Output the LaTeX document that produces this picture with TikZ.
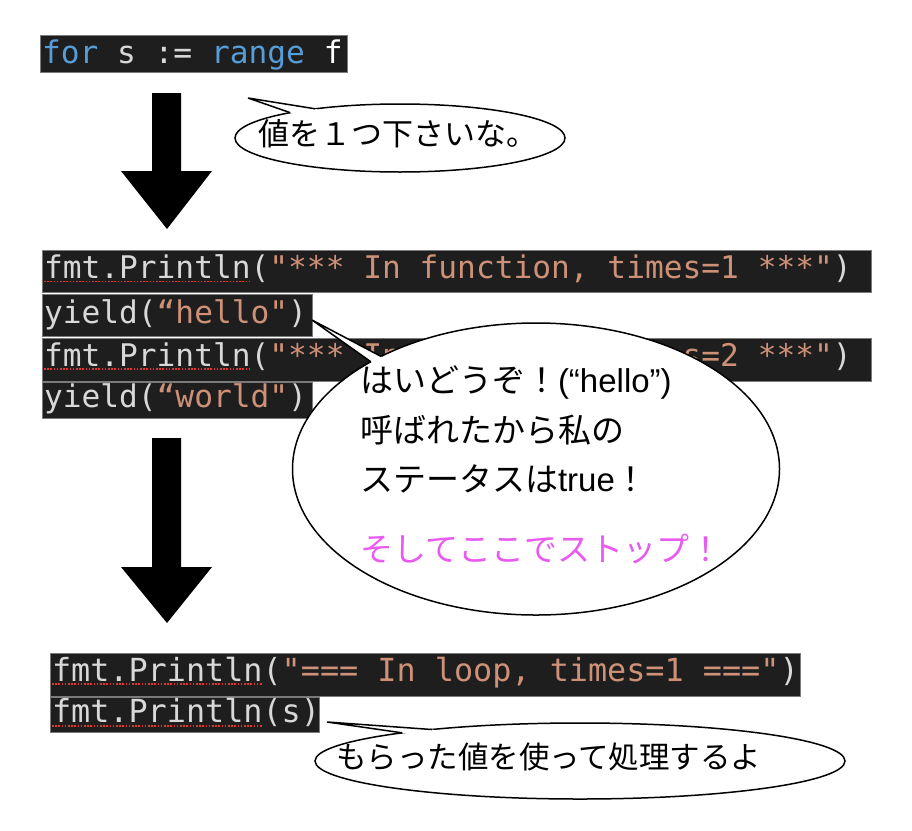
\documentclass[tikz,border=0pt]{standalone}
\usepackage{fontspec}
\setmainfont{Liberation Sans}
\newfontfamily\cjk{Noto Sans CJK JP}
\newfontfamily\codefont{DejaVu Sans Mono}
\usetikzlibrary{shapes.geometric}
\definecolor{codebg}{HTML}{1E1E1E}
\definecolor{codefg}{HTML}{D8D8D8}
\definecolor{codestr}{HTML}{CE9178}
\definecolor{codekw}{HTML}{569CD6}
\definecolor{codeedge}{HTML}{7A7A7A}
\definecolor{squig}{HTML}{E8342C}
\definecolor{stoppink}{HTML}{E95AF0}
\begin{document}
\begin{tikzpicture}[x=1pt,y=-1pt,
  codebox/.style={anchor=north west, fill=codebg, draw=codeedge, line width=0.8pt, inner sep=0pt, outer sep=0pt},
  codetext/.style={anchor=base west, inner sep=0pt, outer sep=0pt, text=codefg, font=\codefont\fontsize{31.2}{36}\selectfont},
  codetextb/.style={codetext, font=\codefont\fontsize{31.8}{36}\selectfont},
  squiggle/.style={draw=squig, line width=1.6pt, dash pattern=on 1.6pt off 1.6pt},
  bubble/.style={ellipse, draw=black, fill=white, line width=1.5pt, inner sep=0pt, outer sep=0pt},
  tail/.style={draw=black, line width=1.5pt, line join=miter},
  talk/.style={anchor=base west, inner sep=0pt, outer sep=0pt, text=black},
  bigarrow/.style={fill=black}]
\fill[white] (0,0) rectangle (912,830);
\useasboundingbox (0,0) rectangle (912,830);

% ---- block 1
\node[codebox, minimum width=307, minimum height=37] (c0box) at (40,35) {};
\node[codetext] (c0) at (42,63) {\textcolor{codekw}{for} s := \textcolor{codekw}{range} \textcolor{white}{f}};

% ---- arrow 1
\fill[bigarrow] (152,93) -- (181,93) -- (181,171) -- (212,171) -- (167,229) -- (121,171) -- (152,171) -- cycle;

% ---- bubble 1
\node[bubble, minimum width=330, minimum height=68] (s1) at (400,138) {};
\coordinate (s1tip) at (248,98);
\fill[white] (s1tip) -- (s1.167.9) -- (s1.center) -- (s1.161.4) -- cycle;
\draw[tail] (s1.167.9) -- (s1tip) -- (s1.161.4);
\node[talk, font=\cjk\fontsize{31}{36}\selectfont] (s1t) at (258,145) {値を１つ下さいな。};

% ---- block 2
\node[codebox, minimum width=829, minimum height=42] (l1box) at (42,250) {};
\node[codebox, minimum width=270, minimum height=42] (l2box) at (42,294) {};
\node[codebox, minimum width=829, minimum height=43] (l3box) at (42,338) {};
\node[codebox, minimum width=270, minimum height=36] (l4box) at (42,382) {};
\node[codetext] (l1) at (44,278) {fmt.Println(\textcolor{codestr}{"*** In function, times=1 ***"})};
\node[codetext] (l2) at (44,323) {yield(\textcolor{codestr}{“hello"})};
\node[codetext] (l3) at (44,366) {fmt.Println(\textcolor{codestr}{"*** In function, times=2 ***"})};
\node[codetext] (l4) at (44,407) {yield(\textcolor{codestr}{“world"})};
\draw[squiggle] (44,281.5) -- (251,281.5);
\draw[squiggle] (44,369) -- (251,369);

% ---- arrow 2
\fill[bigarrow] (152,438) -- (181,438) -- (181,567) -- (212,567) -- (167,623) -- (121,567) -- (152,567) -- cycle;

% ---- bubble 2
\node[bubble, minimum width=487, minimum height=292] (s2) at (536,469) {};
\coordinate (s2tip) at (312,320);
\fill[white] (s2tip) -- (s2.147.9) -- (s2.center) -- (s2.144.6) -- cycle;
\draw[tail] (s2.147.9) -- (s2tip) -- (s2.144.6);
\node[talk, font=\fontsize{33}{38}\selectfont] (s2a) at (360,392) {{\cjk はいどうぞ！}(“hello”)};
\node[talk, font=\cjk\fontsize{33}{38}\selectfont] (s2b) at (360,442) {呼ばれたから私の};
\node[talk, font=\fontsize{33}{38}\selectfont] (s2c) at (360,491) {{\cjk ステータスは}true{\cjk ！}};
\node[talk, text=stoppink, font=\cjk\fontsize{33}{38}\selectfont] (s2d) at (360,561) {そしてここでストップ！};

% ---- block 3
\node[codebox, minimum width=750, minimum height=43] (b1box) at (50,653) {};
\node[codebox, minimum width=269, minimum height=35] (b2box) at (50,697) {};
\node[codetextb] (b1) at (52,681) {fmt.Println(\textcolor{codestr}{"=== In loop, times=1 ==="})};
\node[codetextb] (b2) at (52,722) {fmt.Println(s)};
\draw[squiggle] (52,684) -- (262,684);
\draw[squiggle] (52,726) -- (262,726);

% ---- bubble 3
\node[bubble, minimum width=530, minimum height=76] (s3) at (580,761) {};
\coordinate (s3tip) at (327,722);
\fill[white] (s3tip) -- (s3.171.9) -- (s3.center) -- (s3.168.7) -- cycle;
\draw[tail] (s3.171.9) -- (s3tip) -- (s3.168.7);
\node[talk, font=\cjk\fontsize{30.5}{36}\selectfont] (s3t) at (336,768) {もらった値を使って処理するよ};
\end{tikzpicture}
\end{document}
